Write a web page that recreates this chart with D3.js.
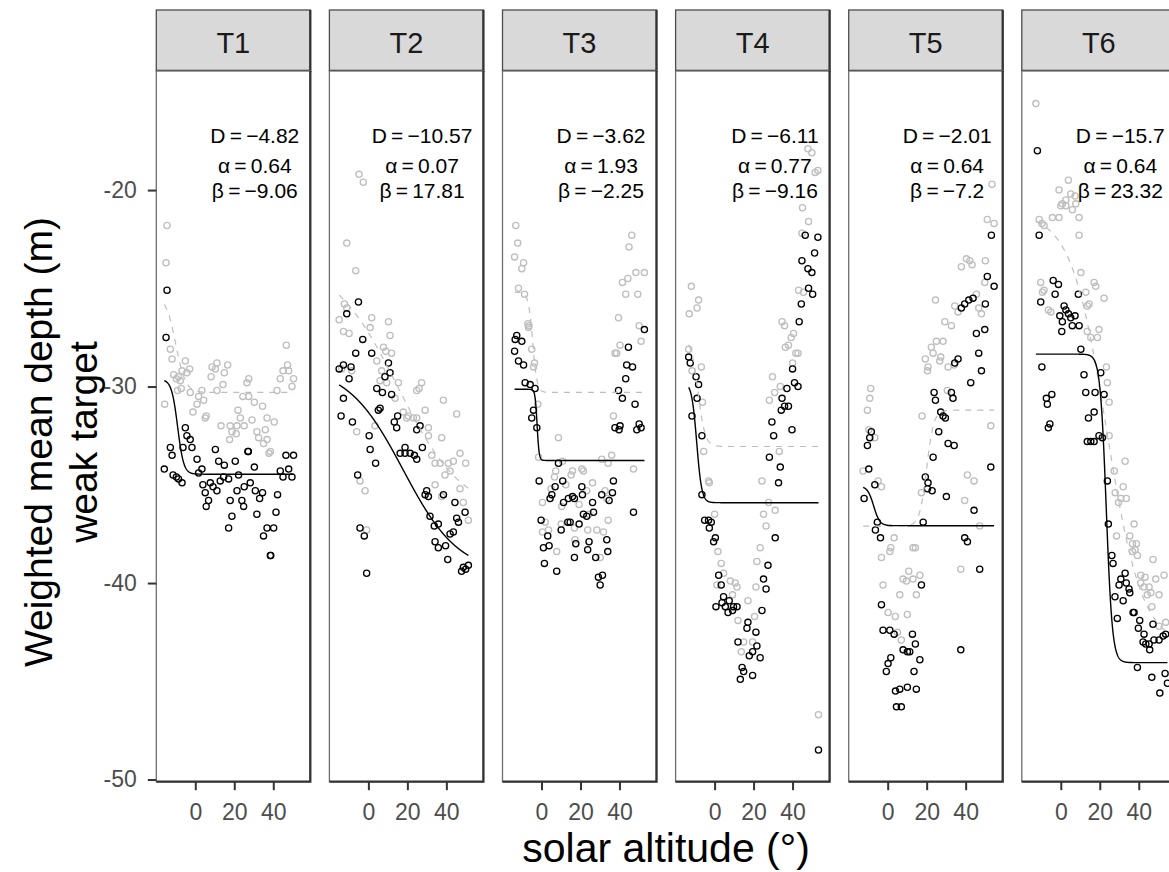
<!DOCTYPE html>
<html>
<head>
<meta charset="utf-8">
<script src="https://cdn.jsdelivr.net/npm/d3@7"></script>
<style>
  body { margin: 0; background: #fff; }
  svg { display: block; }
  text { font-family: "Liberation Sans", Arial, Helvetica, sans-serif; }
</style>
</head>
<body>
<svg id="chart" width="1169" height="872"></svg>
<script>
// ---- facets and fitted logistic parameters (weak target, black) ----
const transects = ["T1", "T2", "T3", "T4", "T5", "T6"];
const fitD     = [-4.82, -10.57, -3.62, -6.11, -2.01, -15.7];
const fitAlpha = [0.64, 0.07, 1.93, 0.77, 0.64, 0.64];
const fitBeta  = [-9.06, 17.81, -2.25, -9.16, -7.2, 23.32];
const fitUpper = [-29.64, -28.95, -30.14, -29.8, -35.07, -28.35];

// ---- fitted logistic for the comparison series (grey, dashed) ----
const greyUpper = [-25.4, -23.5, -25.2, -27.5, -37.1, -21.2];
const greyD     = [-4.9, -13.0, -5.1, -5.55, 5.9, -22.0];
const greyAlpha = [0.4, 0.06, 0.9, 0.55, 0.55, 0.11];
const greyBeta  = [-10, 15, -4.5, -8.5, 20, 23.5];

// ---- axis ticks ----
const yTicks = [-50, -40, -30, -20];
const xTicks = [0, 20, 40];

// ---- observations: [solar altitude (deg), weighted mean depth (m)] ----
const t1Black = [[-14.5,-25.1],[-15,-27.5],[-5.1,-32.1],[-4.3,-32.5],[-2.6,-32.7],[-1.7,-33.1],[-6.3,-33.1],[-12.8,-33.1],[-11.9,-33.5],[0.9,-33.7],[3.4,-34.2],[1.7,-34.4],[-15.9,-34.2],[-11.4,-34.5],[-9.7,-34.6],[-8.6,-34.7],[-6.8,-34.9],[10.3,-33.2],[12,-33.8],[14.9,-34.0],[20.5,-33.8],[27,-33.3],[27.2,-33.3],[30.3,-34.1],[22.2,-34.5],[14.5,-34.6],[17.1,-34.7],[12.8,-34.8],[3.9,-35],[7.7,-34.9],[9.1,-35.1],[5.1,-35.4],[11.1,-35.3],[6.8,-35.8],[5.6,-36.1],[21.4,-35.3],[25.1,-35.1],[28.2,-34.9],[30.8,-35.3],[34.5,-35.4],[33,-35.7],[42.2,-35.5],[17.9,-35.8],[23.9,-35.8],[24.8,-36.1],[18.8,-36.6],[31.6,-36.5],[17.1,-37.2],[41.4,-36.4],[36.8,-37.2],[40.2,-37.2],[35,-37.6],[38.5,-38.6],[38.7,-38.6],[43.6,-34.3],[45,-34.6],[47.9,-34.2],[49.6,-34.6],[46.5,-33.5],[50.4,-33.5]];
const t1Grey = [[-14.5,-21.8],[-15,-23.7],[-12.8,-28.1],[-11.9,-28.6],[-5.1,-28.7],[-2.9,-29.1],[-6.8,-29.2],[-4.3,-29.3],[-11.1,-29.4],[-8.6,-29.5],[-9.7,-29.6],[-7.7,-29.7],[-7.2,-30.1],[-9.1,-30.2],[-15.7,-30.9],[-2.6,-30.3],[3.4,-30.2],[1.7,-30.5],[4.3,-30.7],[0.9,-30.9],[-1.2,-31.3],[5.6,-31.5],[5.1,-31.6],[8.6,-29],[11.1,-28.8],[10.3,-29.1],[16.6,-28.9],[14.9,-29.3],[14.2,-29.9],[8.1,-29.5],[11.1,-30.2],[27.4,-29.6],[26.5,-29.8],[24.4,-30.5],[27.4,-30.5],[30.3,-30.8],[34.5,-31.0],[21.9,-31.2],[23.1,-31.6],[13.2,-32],[17.9,-32],[21.4,-32],[25.1,-32],[29.1,-31.7],[36.8,-31.6],[18.8,-32.3],[21,-32.4],[17.6,-32.7],[31.6,-32.3],[32.5,-32.6],[35.9,-32.2],[36.8,-32.7],[35,-32.9],[40.5,-31.8],[38.5,-33.3],[37.8,-33.4],[46.7,-27.9],[47.3,-28.9],[45,-29.2],[47.9,-29.2],[43.6,-29.6],[50.4,-29.6],[49.6,-30],[41.9,-30.2]];

const t2Black = [[-5.1,-25.7],[-11.1,-26.3],[-2.9,-27.6],[-6.5,-28.3],[1.7,-28.3],[-12.8,-28.9],[-15,-29.1],[-8.9,-29.0],[-9.9,-29.6],[10.3,-28.8],[11.1,-29.3],[8.5,-29.5],[4.3,-30.1],[7.2,-30.3],[11.9,-30.4],[-12.8,-30.6],[6,-31.1],[5.1,-31.2],[-14,-31.5],[-8.2,-31.8],[15,-31.5],[13.3,-31.8],[14.5,-32.1],[26.5,-32],[24.8,-32.2],[0.4,-32.5],[0.9,-33.2],[3.7,-33.9],[18.8,-33.1],[16.3,-33.4],[18.8,-33.4],[21.4,-33.4],[23.6,-33.5],[24.8,-33.7],[27.7,-33.1],[-5.5,-34.5],[29.9,-35.3],[29.1,-35.5],[30.8,-35.6],[38.5,-35.5],[44.4,-35.9],[49.6,-36.4],[45.3,-36.7],[46.2,-36.9],[31.6,-36.6],[35.9,-37.0],[33.8,-37.1],[41.9,-37.5],[43.6,-37.4],[-4.3,-37.2],[-2.1,-37.6],[34.2,-37.9],[35.9,-38.2],[39.6,-38.1],[40.7,-38.8],[48.7,-39.2],[51.3,-39.1],[47.8,-39.4],[49.9,-39.3],[-0.9,-39.5]];
const t2Grey = [[-4.8,-19.2],[-2.6,-19.6],[-11.1,-22.7],[-6.5,-24.1],[-12.3,-25.8],[-11.1,-26.0],[-15,-26.6],[-12.8,-27.2],[-9.9,-27.3],[1.7,-26.5],[0.9,-27.0],[10.3,-26.7],[11.1,-27.4],[7.7,-28.0],[8.9,-28.2],[11.9,-28.3],[4.3,-28.7],[-13.7,-29.1],[-8.6,-29.2],[6.8,-29.2],[6,-29.7],[9.4,-29.8],[15.4,-29.8],[27.3,-29.8],[24.8,-30.2],[26,-30.1],[13.7,-30.6],[38.5,-30.7],[29.1,-31.2],[45.3,-31.4],[17.9,-31.3],[20.5,-31.5],[23.1,-31.6],[24.8,-31.6],[19.7,-31.6],[3.4,-32.0],[-6,-32.3],[30.8,-32.1],[30.8,-32.5],[37.6,-32.6],[32.5,-33.5],[34.2,-33.9],[36.8,-33.9],[41,-33.9],[43.6,-33.8],[47,-33.4],[49.9,-33.9],[39.3,-34.5],[41.9,-34.3],[-4.3,-34.8],[-1.7,-35.3],[34.2,-35],[47,-35.2],[48.7,-35.9],[51.3,-36.8],[37.6,-35.6],[-0.9,-37.3]];

const t3Black = [[-12.7,-27.4],[-13.5,-27.6],[-10.1,-27.7],[-13.8,-28.2],[-11.8,-28.7],[-9.2,-28.9],[-8.4,-29.8],[-5.8,-29.9],[-3.3,-30.1],[-4.1,-31.2],[-5,-31.6],[-2.4,-32.1],[44.6,-28],[43.7,-28.9],[46.7,-29],[43.2,-29.6],[52.8,-27.1],[39.5,-30.2],[41.5,-30.6],[48,-30.9],[37.7,-32.1],[40.3,-32],[39.8,-32.2],[48.9,-32.2],[51.1,-32.1],[50.1,-31.9],[47.2,-36.4],[8.7,-33.9],[-1.2,-34.8],[7,-35.1],[10.9,-34.8],[5.3,-35.5],[4.4,-35.7],[11.3,-35.9],[13.8,-35.7],[15.9,-35.6],[16.9,-35.7],[20.7,-35.1],[21,-35.5],[30.9,-35.5],[34.7,-35.8],[36.4,-35.4],[36.9,-34.8],[26.2,-35.9],[26.7,-36.4],[21.5,-36.5],[23.2,-36.6],[13.5,-36.9],[14.7,-36.9],[19.3,-37.0],[-0.2,-36.8],[10.1,-37.3],[3.2,-37.6],[1,-38.2],[3.9,-38.1],[17.6,-38],[24.4,-37.9],[23.7,-38.3],[33.5,-37.8],[34,-38.4],[1.5,-39],[7.8,-39.4],[16.9,-38.7],[27.8,-38.7],[29.2,-39.7],[31.3,-39.6],[30.1,-40.1]];
const t3Grey = [[-13.2,-21.8],[-12.2,-22.7],[-13.8,-23.4],[-9.2,-23.7],[-10.1,-24.0],[-11.8,-25],[-8.7,-25.3],[-7,-26.8],[-6.4,-26.9],[-6.7,-27.0],[-5,-28.1],[-3.6,-28.8],[-4.1,-29.0],[-1.9,-30.9],[46.3,-22.3],[44.9,-22.9],[41.5,-24.7],[44.3,-24.5],[48.4,-24.2],[52.8,-24.2],[43.2,-25.3],[49.4,-25.3],[39.5,-26.5],[50.1,-26.9],[51.1,-27.7],[37.7,-28.3],[40.3,-27.9],[38.6,-28.3],[36.9,-31.5],[47.2,-34.2],[8.7,-32.6],[-1.5,-33.6],[10.8,-33.8],[30.9,-33.7],[36,-33.5],[34.2,-33.9],[7.3,-34.3],[6.7,-34.6],[15.2,-34.5],[15.9,-34.3],[20.7,-34.2],[21.5,-34.3],[4.9,-35.2],[12.5,-35],[26.2,-34.9],[23.2,-35.3],[0.5,-35.9],[10.4,-36.1],[19.3,-36],[32.6,-35.3],[33.5,-35.7],[1.9,-36.9],[3.6,-37.3],[0.5,-37.4],[10.1,-37],[24.4,-36.5],[34.2,-36.8],[16.9,-37.2],[23.7,-37.3],[28.4,-37.3],[31.8,-37.4],[7.8,-38.4],[17.2,-37.8],[30.1,-38.7]];

const t4Black = [[46.5,-22.3],[53,-22.4],[51.3,-23.2],[44.8,-23.6],[47.9,-24.0],[49.9,-24.2],[48.2,-25],[50.3,-25.3],[44.5,-25.8],[43.4,-26.7],[40,-29.1],[41,-29.8],[42.8,-30],[37.1,-30.1],[34.6,-30.6],[35.9,-31],[37.9,-31],[34.2,-31.2],[29.4,-31.8],[30.3,-32.5],[39.7,-32.2],[28.1,-33.6],[-13.3,-28.5],[-12.5,-28.8],[-9.5,-29.5],[-8.2,-29.9],[-9,-30.6],[-11.6,-31.5],[-6.5,-32.5],[33.7,-34.1],[32.8,-34.9],[-6.5,-35.5],[-5.1,-36.8],[-3.1,-36.8],[-1.7,-36.9],[-2.7,-37.2],[0.4,-37.7],[-0.5,-37.9],[31.1,-37.7],[27.4,-39.1],[2.1,-39.6],[3.4,-40.1],[25.1,-39.8],[26.4,-40.3],[4.6,-40.7],[7.5,-40.9],[9.7,-41.2],[11.5,-41.2],[0.7,-41.2],[5.5,-41.2],[6.9,-41.5],[9.2,-41.4],[3.8,-41.0],[24.3,-41.4],[17.1,-42],[16.6,-42.3],[21.2,-42.5],[12,-43],[21.7,-43.2],[19.5,-43.5],[17.8,-43.7],[23.4,-43.8],[14.1,-44.3],[14.9,-44.5],[13.2,-44.9],[19.5,-44.7],[53.3,-48.5]];
const t4Grey = [[47.9,-17.9],[49.9,-18.1],[51.6,-19.1],[53,-19],[45.1,-20.9],[48.2,-21.6],[44.8,-22.2],[43.1,-25.1],[45.6,-25.2],[-11.9,-24.9],[-8.2,-25.6],[-9,-26],[-13,-26.3],[34.6,-26.7],[35.9,-26.9],[40.5,-27.3],[39.3,-27.5],[37.9,-27.9],[36.3,-28],[42.8,-28.3],[41.7,-28.3],[40,-28.8],[29.7,-29.5],[33.7,-30],[30.8,-30.3],[28.1,-30.7],[-13.3,-28.1],[-11.6,-29.2],[-6.8,-29.0],[-6.2,-30.8],[-5.6,-33.3],[33.2,-33.3],[-3.1,-34.8],[-2.7,-34.9],[24.3,-34.8],[27.7,-35.9],[31.1,-36.3],[25.1,-36.5],[26.4,-37.1],[0,-36.5],[1.7,-38.4],[3.4,-39],[23.4,-38.2],[21.7,-38.9],[4.6,-39.5],[1.2,-40.1],[8.1,-39.9],[10.6,-40],[11.5,-40.2],[9.2,-40.6],[21.2,-40.2],[17.1,-40.9],[20.5,-41.7],[12,-41.9],[14.9,-43],[19.5,-43],[13.7,-43.5],[53.3,-46.7]];

const t5Black = [[53.2,-22.3],[51.1,-24.4],[54.6,-24.9],[43.8,-25.5],[41.6,-25.6],[39.5,-25.8],[37.8,-26],[50.1,-25.8],[45.5,-27.3],[49.8,-27.1],[46.7,-28.3],[48.1,-29.2],[42.6,-29.8],[36.1,-28.6],[34.4,-28.8],[23.8,-30.3],[24.5,-30.7],[32.7,-30.3],[33.5,-30.6],[27.2,-31.3],[28.4,-31.5],[29.6,-31.6],[26.2,-32.3],[31,-32.9],[34.1,-33],[23.3,-33.6],[52.9,-34.1],[19.3,-34.6],[20.7,-34.9],[20.4,-35.2],[22.8,-35.3],[30.1,-35.6],[44.3,-36.3],[18.2,-36.9],[-8.4,-32.3],[-9.2,-32.6],[-10.4,-33],[-9.7,-34.2],[-6.6,-35],[-12.1,-35.7],[-5.3,-36.9],[-6.3,-37.3],[-3.7,-37.7],[39.5,-37.7],[40.9,-37.9],[47.2,-39.3],[17.3,-40.1],[-3.2,-41.1],[-2.4,-42.4],[1.1,-42.4],[3.3,-42.6],[12.7,-42.6],[14.2,-43.1],[7.9,-43.4],[10.1,-43.5],[11.3,-43.5],[37.5,-43.4],[1.6,-43.8],[0.2,-44.1],[-0.7,-44.5],[16.5,-43.9],[13.5,-44.5],[4,-45.5],[6.2,-45.4],[10.1,-45.3],[14.7,-45.4],[4.5,-46.3],[7,-46.3]];
const t5Grey = [[53.5,-19.7],[51.1,-21.5],[54.6,-21.7],[40.4,-23.5],[43.3,-23.8],[37.8,-23.9],[50.1,-23.6],[42.1,-23.6],[49.8,-24.7],[45.5,-25.3],[24.5,-25.6],[34.4,-25.9],[36.1,-26.2],[48.1,-26.3],[46.7,-26],[29.3,-26.7],[32.7,-26.9],[25,-27.7],[28.4,-27.7],[22.4,-28],[23.3,-28.3],[27.2,-28.5],[19.3,-28.6],[26.7,-28.7],[20.7,-29],[20.4,-29.2],[31,-29],[34.1,-28.9],[30.6,-30.2],[-8.7,-30.1],[-9.2,-30.6],[-10.4,-31.2],[17.6,-31.5],[52.9,-32],[-9.7,-32.2],[-6.6,-32.6],[-12.6,-34.3],[-4.9,-34.8],[-3.2,-35.1],[40.9,-34.5],[44.3,-34.8],[17.3,-35.4],[39.5,-35.8],[47.2,-37.1],[3.3,-37.7],[1.6,-38.2],[1.1,-38.4],[-3.2,-38.7],[13,-38.2],[14.2,-38.2],[37.5,-39.3],[10.8,-39.4],[7.9,-39.8],[9.6,-39.9],[13,-39.8],[16.5,-39.6],[-2.4,-40.1],[6.2,-40.6],[14.7,-40.6],[0.2,-41.5],[3.9,-41.7],[10.1,-41.6],[5,-42.5],[7,-42.9]];

const t6Black = [[-12,-18],[-11.1,-22.3],[-3.9,-24.6],[-1.2,-24.8],[-2.9,-25.3],[-10.3,-25.7],[9,-25.3],[1.7,-25.9],[2.6,-26.1],[3.9,-26.3],[5.1,-26.5],[7.3,-26.4],[-0.5,-26.4],[5.9,-26.9],[9.4,-26.9],[0.8,-26.7],[0.5,-27.2],[10.3,-28.1],[-9.7,-29],[11.9,-29.4],[20.5,-29.3],[12.8,-30.3],[17.6,-30.3],[22.2,-30.4],[-4.6,-30.4],[-7.4,-30.6],[-6.9,-30.9],[17.1,-31.3],[14.2,-31.6],[-5.6,-31.9],[-6.4,-32.1],[19.6,-32.5],[21.3,-32.6],[17.1,-32.8],[13.6,-32.8],[15.4,-32.8],[23.9,-34.8],[24.4,-37],[26.2,-38.6],[26.8,-39],[33,-39.5],[33.6,-40],[30.8,-39.8],[29.9,-40.1],[35,-40.3],[35.4,-40.5],[27.8,-40.7],[32,-40.9],[37.1,-41.5],[37.6,-41.5],[40.5,-41.9],[39.8,-42.3],[42.7,-42.6],[47.3,-42.1],[29,-41.8],[42.2,-43],[43.6,-43.1],[45.6,-43.4],[45.3,-43.1],[47.8,-42.9],[50.4,-42.9],[52.5,-42.7],[53.8,-42.6],[39.3,-44.3],[46.7,-44.8],[53.5,-44.6],[54.7,-45.1],[50.8,-45.6]];
const t6Grey = [[-12.8,-15.6],[3.9,-19.5],[-0.9,-20],[5.1,-20.2],[2.6,-20.5],[0.8,-20.7],[0,-20.8],[7.3,-20.3],[7.7,-20.7],[2.6,-20.8],[5.9,-21],[9.4,-21.4],[-0.9,-21.4],[-4.3,-21.4],[-11.1,-21.5],[-9.7,-21.7],[-8.6,-21.8],[9.4,-22.3],[10.3,-24.2],[-10.3,-24.7],[-8.6,-25.1],[-9.4,-25.2],[17.1,-24.7],[17.9,-24.9],[12.8,-25.2],[22.2,-25.5],[14.5,-25.8],[13.6,-25.9],[-6.4,-26.1],[-5.1,-26.2],[13.6,-27.2],[19.6,-27.1],[18.8,-27.5],[15.4,-27.5],[23.4,-29],[23.9,-29.8],[24.8,-30.8],[24.8,-32.5],[33,-33.8],[27.4,-34.3],[32,-35.1],[27.9,-35.4],[30.8,-35.7],[29.6,-35.9],[33.6,-35.7],[37.6,-37],[28.6,-37.6],[35.4,-37.6],[36.8,-38],[38.8,-38],[38.1,-38.3],[36.8,-38.4],[39.3,-38.6],[47.3,-38.8],[41,-39.6],[43.2,-39.7],[41,-40],[42.7,-40.2],[45.3,-40.2],[48.7,-39.8],[53,-39.6],[46.2,-40.5],[50.4,-40.6],[44.4,-40.6],[53.8,-42],[50.4,-42.2],[46.7,-41.2]];

const blackSeries = [t1Black, t2Black, t3Black, t4Black, t5Black, t6Black];
const greySeries  = [t1Grey, t2Grey, t3Grey, t4Grey, t5Grey, t6Grey];

// ---- layout ----
const svg = d3.select("#chart");
const panelLeft0 = 156.3, panelStep = 173.1, panelW = 154;
const panelTop = 71, panelBottom = 781.7, stripTop = 10;
const xDomain = [-20, 59];
const y = d3.scaleLinear().domain([-50.11, -13.94]).range([panelBottom, panelTop]);

const logistic = (upper, D, a, b) => x => upper + D / (1 + Math.exp(-a * (x - b)));
const signed = v => String(v).replace("-", "\u2212");

transects.forEach((name, i) => {
  const L = panelLeft0 + i * panelStep;
  const x = d3.scaleLinear().domain(xDomain).range([L, L + panelW]);
  const g = svg.append("g");

  // strip
  g.append("rect").attr("x", L).attr("y", stripTop).attr("width", panelW).attr("height", panelTop - stripTop)
    .attr("fill", "#D9D9D9").attr("stroke", "#4d4d4d").attr("stroke-width", 1.3);
  g.append("path").attr("d", `M${L},${panelTop}H${L + panelW}V${stripTop}`)
    .attr("fill", "none").attr("stroke", "#333").attr("stroke-width", 2.3);
  g.append("text").attr("x", L + panelW / 2).attr("y", 53).attr("text-anchor", "middle")
    .attr("font-size", 29).attr("fill", "#1A1A1A").text(name);

  // panel background
  g.append("rect").attr("x", L).attr("y", panelTop).attr("width", panelW).attr("height", panelBottom - panelTop)
    .attr("fill", "#fff");

  const circ = (data, col) => g.append("g").selectAll("circle").data(data).join("circle")
    .attr("cx", d => x(d[0])).attr("cy", d => y(d[1])).attr("r", 3.1)
    .attr("fill", "none").attr("stroke", col).attr("stroke-width", 1.3);
  circ(greySeries[i], "#BEBEBE");
  circ(blackSeries[i], "#000");

  // fitted curves over the panel's observed altitude range
  const ext = d3.extent(blackSeries[i].concat(greySeries[i]), d => d[0]);
  const xs = d3.range(ext[0], ext[1], 0.1).concat([ext[1]]);
  const line = f => d3.line().x(v => x(v)).y(v => y(f(v)))(xs);
  g.append("path").attr("d", line(logistic(greyUpper[i], greyD[i], greyAlpha[i], greyBeta[i])))
    .attr("fill", "none").attr("stroke", "#BEBEBE").attr("stroke-width", 1.2).attr("stroke-dasharray", "6,6");
  g.append("path").attr("d", line(logistic(fitUpper[i], fitD[i], fitAlpha[i], fitBeta[i])))
    .attr("fill", "none").attr("stroke", "#000").attr("stroke-width", 1.4);

  // parameter annotation
  const ann = g.append("g").attr("font-size", 21).attr("fill", "#000").attr("text-anchor", "middle");
  const lines = [
    `D\u2009=\u2009${signed(fitD[i])}`,
    `\u03B1\u2009=\u2009${signed(fitAlpha[i])}`,
    `\u03B2\u2009=\u2009${signed(fitBeta[i])}`
  ];
  const baselines = [142.7, 173, 197.7];
  const tx = ann.selectAll("text").data(lines).join("text").attr("y", (d, k) => baselines[k]).text(d => d);
  const widest = d3.max(tx.nodes(), n => n.getComputedTextLength());
  tx.attr("x", L + panelW - 11 - widest / 2);

  // panel border: light left/top, heavier right/bottom
  g.append("rect").attr("x", L).attr("y", panelTop).attr("width", panelW).attr("height", panelBottom - panelTop)
    .attr("fill", "none").attr("stroke", "#6e6e6e").attr("stroke-width", 1.3);
  g.append("path").attr("d", `M${L},${panelBottom}H${L + panelW}V${panelTop}`)
    .attr("fill", "none").attr("stroke", "#333").attr("stroke-width", 2.3);

  // x axis
  const xa = g.append("g").attr("transform", `translate(0,${panelBottom})`)
    .call(d3.axisBottom(x).tickValues(xTicks).tickSize(8.5).tickPadding(13).tickFormat(d => String(d)));
  xa.select(".domain").remove();
  xa.selectAll(".tick line").attr("stroke", "#333").attr("stroke-width", 2);
  xa.selectAll(".tick text").attr("fill", "#4D4D4D").attr("font-size", 23)
    .attr("font-family", "'Liberation Sans', Arial, sans-serif");

  if (i === 0) {
    const ya = g.append("g").attr("transform", `translate(${L},0)`)
      .call(d3.axisLeft(y).tickValues(yTicks).tickSize(8.5).tickPadding(11).tickFormat(d => String(d)));
    ya.select(".domain").remove();
    ya.selectAll(".tick line").attr("stroke", "#333").attr("stroke-width", 2);
    ya.selectAll(".tick text").attr("fill", "#4D4D4D").attr("font-size", 23)
      .attr("font-family", "'Liberation Sans', Arial, sans-serif");
  }
});

// axis titles
svg.append("text").attr("x", 666).attr("y", 862).attr("text-anchor", "middle")
  .attr("font-size", 41).attr("fill", "#000").text("solar altitude (\u00B0)");
const yTitle = svg.append("g").attr("transform", "translate(0,442) rotate(-90)")
  .attr("text-anchor", "middle").attr("font-size", 39).attr("fill", "#000");
yTitle.append("text").attr("x", 0).attr("y", 52).text("Weighted mean depth (m)");
yTitle.append("text").attr("x", 0).attr("y", 97).text("weak target");
</script>
</body>
</html>
